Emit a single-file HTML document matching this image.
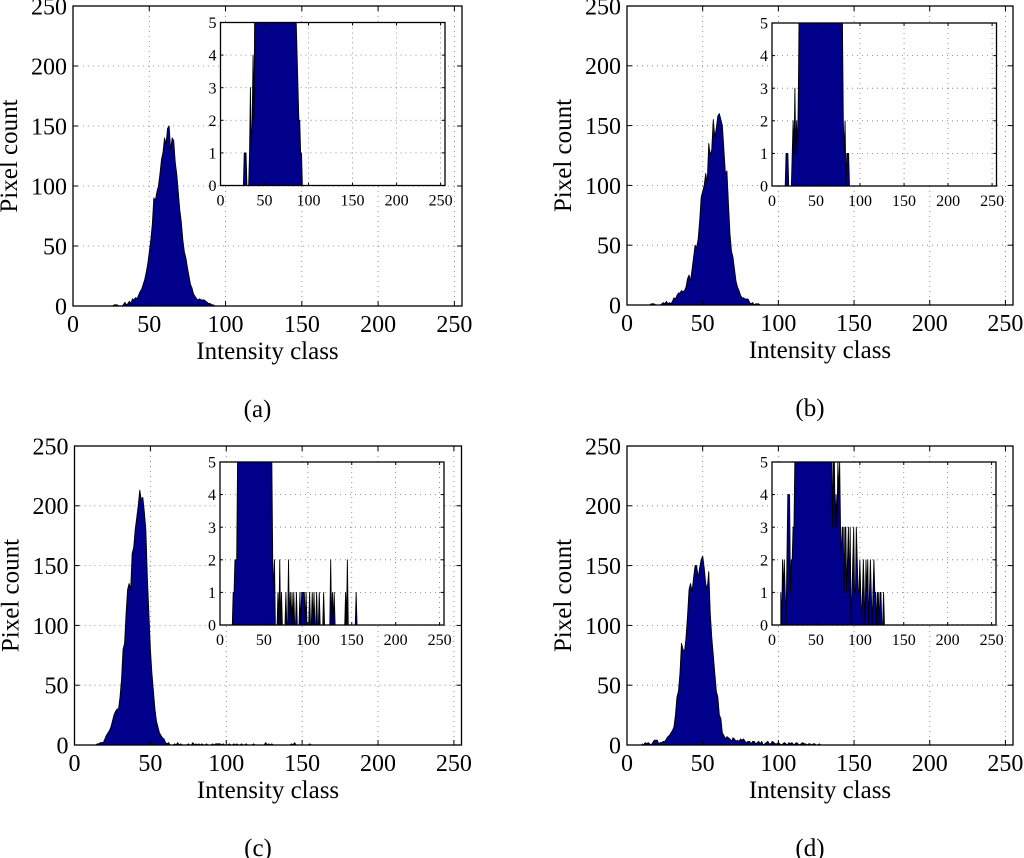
<!DOCTYPE html>
<html><head><meta charset="utf-8"><style>
html,body{margin:0;padding:0;background:#fff;}
svg{display:block;font-family:"Liberation Serif",serif;}
</style></head><body>
<svg id="fig" width="1024" height="858" viewBox="0 0 1024 858"></svg>
<script>
// ---- data ----
const xTicks = [0, 50, 100, 150, 200, 250];
const yTicksMain = [0, 50, 100, 150, 200, 250];
const yTicksInset = [0, 1, 2, 3, 4, 5];
const panelLabels = ["(a)", "(b)", "(c)", "(d)"];

const aStart = 25;
const aCounts = [0,0,1,1,1,0,0,0,1,3,1,2,4,2,6,5,7,6,9,12,14,18,22,28,35,45,55,68,90,88,95,100,110,122,128,140,135,148,150,130,140,138,120,110,95,80,70,55,45,40,32,25,18,15,10,8,6,5,6,5,5,5,4,3,2,2,1,1,0,0,0];

const bStart = 15;
const bCounts = [0,1,1,1,0,0,0,0,1,2,1,3,1,2,1,3,6,5,8,10,10,12,11,12,15,22,25,20,30,40,50,48,55,70,90,95,100,110,102,135,125,130,155,140,148,158,160,155,150,130,110,112,85,60,45,40,30,20,15,12,8,6,6,5,5,5,2,1,2,0,1,1,1,0];

const cStart = 14;
const cCounts = [0,1,1,2,2,2,5,8,10,12,15,20,25,28,30,30,40,55,80,85,110,130,135,130,160,165,180,190,200,213,205,207,195,180,140,110,80,60,45,30,20,15,10,8,6,5,2,1,2,0,0,0,1,0,2,0,1,0,0,0,0,1,0,0,2,0,1,0,1,0,1,0,0,1,0,0,0,1,0,1,1,1,1,0,1,0,0,0,1,0,0,1,0,1,0,0,1,0,0,1,0,0,0,0,1,0,0,0,0,0,0,0,2,0,1,0,1,0,0,0,0,0,0,0,0,0,0,0,0,1,0,2,0,0,0,0,0,0,0,0,0,1,0];

const dStart = 10;
const dCounts = [1,0,2,1,2,1,0,2,4,4,4,1,2,2,3,3,5,7,8,10,12,15,25,40,45,60,85,80,78,90,108,130,135,128,140,150,150,140,148,155,158,148,135,130,145,110,90,75,60,45,40,25,22,10,8,5,7,6,5,3,6,5,3,4,3,5,4,5,3,2,3,3,1,3,3,1,2,3,1,3,0,1,2,3,1,1,3,2,1,1,2,1,0,1,2,1,0,2,1,2,0,1,2,1,0,1,2,1,1,0,1,1,0,1,1,0,0,1,0,0,0];

const panelStarts = [aStart, bStart, cStart, dStart];
const panelCounts = [aCounts, bCounts, cCounts, dCounts];

// ---- layout ----
const NS = "http://www.w3.org/2000/svg";
const svg = document.getElementById("fig");
const geo = [
  {L:73, R:462, T:6, B:306, iL:220.5, iR:445, iT:22.5, iB:185.5},
  {L:627, R:1013, T:6, B:305, iL:772, iR:996.5, iT:23, iB:186},
  {L:74.5, R:461.5, T:446, B:745, iL:220, iR:444, iT:462, iB:625},
  {L:627, R:1013, T:446, B:745, iL:772, iR:996, iT:462, iB:625}
];
const XMAX = 255;
function mk(tag, attrs, parent){
  const e = document.createElementNS(NS, tag);
  for (const k in attrs) e.setAttribute(k, attrs[k]);
  (parent||svg).appendChild(e);
  return e;
}

function drawAxes(g, L, R, T, B, ymax, yT, fs, tickLen, labelGap, xLabelDy, name, counts, start){
  const sx = v => L + (v / XMAX) * (R - L);
  const sy = v => B - (v / ymax) * (B - T);
  const bg = mk("rect", {x:L, y:T, width:R-L, height:B-T, fill:"#fff"}, g);
  
  
  xTicks.forEach(t => { if (t > 0) {
    const l = mk("line", {x1:sx(t), x2:sx(t), y1:T, y2:B, stroke:"#777", "stroke-width":0.8, "stroke-dasharray":"1,4"}, g);
    
    
  }});
  yT.forEach(t => { if (t > 0) {
    const l = mk("line", {x1:L, x2:R, y1:sy(t), y2:sy(t), stroke:"#777", "stroke-width":0.8, "stroke-dasharray":"1,4"}, g);
    
    
  }});
  const cid = "clip-" + name;
  const cp = mk("clipPath", {id:cid}, g);
  mk("rect", {x:L, y:T, width:R-L, height:B-T}, cp);
  let pts = sx(start) + "," + sy(0) + " ";
  counts.forEach((v, i) => { pts += sx(start + i) + "," + sy(v) + " "; });
  pts += sx(start + counts.length - 1) + "," + sy(0);
  const area = mk("polygon", {points:pts, fill:"#00008B", stroke:"#000", "stroke-width":0.9, "stroke-linejoin":"round", "clip-path":"url(#" + cid + ")"}, g);
  
  
  xTicks.forEach(t => {
    mk("line", {x1:sx(t), x2:sx(t), y1:B, y2:B-tickLen, stroke:"#000", "stroke-width":1}, g);
    mk("line", {x1:sx(t), x2:sx(t), y1:T, y2:T+tickLen, stroke:"#000", "stroke-width":1}, g);
    const tx = mk("text", {x:sx(t), y:B + xLabelDy, "font-size":fs, "text-anchor":"middle", fill:"#000"}, g);
    tx.textContent = t;
    
    
  });
  yT.forEach(t => {
    mk("line", {x1:L, x2:L+tickLen, y1:sy(t), y2:sy(t), stroke:"#000", "stroke-width":1}, g);
    mk("line", {x1:R, x2:R-tickLen, y1:sy(t), y2:sy(t), stroke:"#000", "stroke-width":1}, g);
    const ty = mk("text", {x:L - labelGap, y:sy(t) + fs*0.35, "font-size":fs, "text-anchor":"end", fill:"#000"}, g);
    ty.textContent = t;
    
    
  });
  const fr = mk("rect", {x:L, y:T, width:R-L, height:B-T, fill:"none", stroke:"#000", "stroke-width":1.3}, g);
  
  
}

geo.forEach((p, k) => {
  const g = mk("g", {});
  
  
  drawAxes(g, p.L, p.R, p.T, p.B, 250, yTicksMain, 24, 5, 6, 26, "main-" + "abcd"[k], panelCounts[k], panelStarts[k]);
  const gi = mk("g", {}, g);
  
  
  drawAxes(gi, p.iL, p.iR, p.iT, p.iB, 5, yTicksInset, 16, 3, 4, 20, "inset-" + "abcd"[k], panelCounts[k], panelStarts[k]);
  const cx = (p.L + p.R) / 2;
  const xl = mk("text", {x:cx, y:p.B + 53, "font-size":25, "text-anchor":"middle", fill:"#000"}, g);
  xl.textContent = "Intensity class";
  
  
  const ym = (p.T + p.B) / 2;
  const yl = mk("text", {x:p.L - 56, y:ym, "font-size":25, "text-anchor":"middle", fill:"#000", transform:"rotate(-90 " + (p.L - 56) + " " + ym + ")"}, g);
  yl.textContent = "Pixel count";
  
  
  const pl = mk("text", {x:cx - 10, y:p.B + 111, "font-size":25, "text-anchor":"middle", fill:"#000"}, g);
  pl.textContent = panelLabels[k];
  
  
});
</script>
</body></html>
